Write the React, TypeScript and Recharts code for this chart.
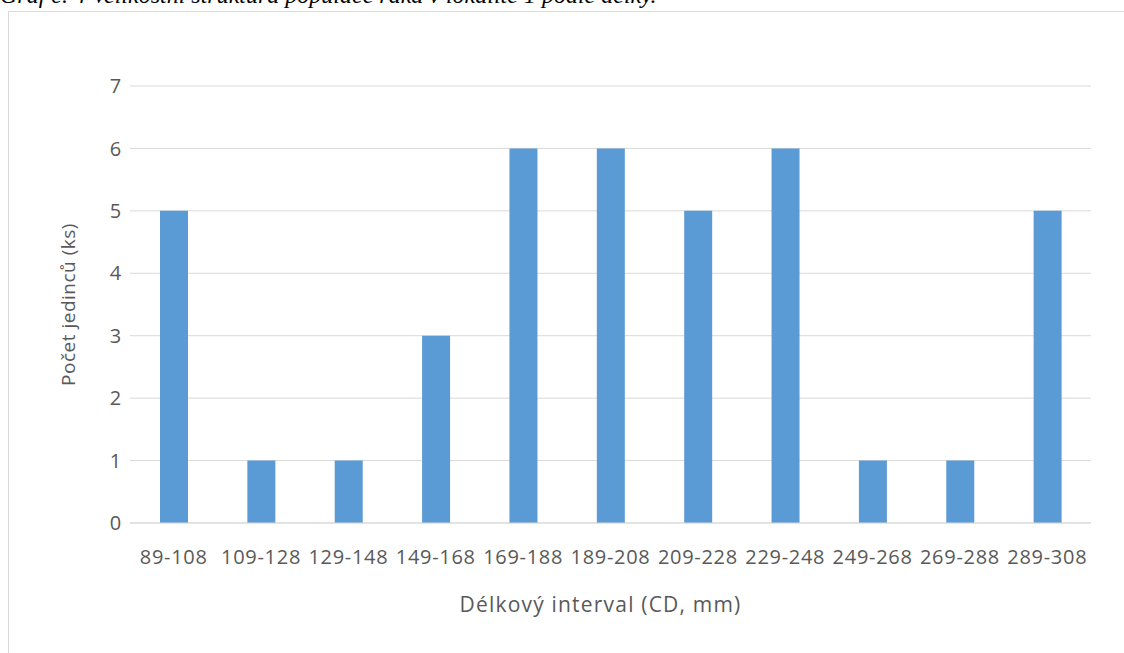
import React from "react";
import { BarChart, Bar, XAxis, YAxis, CartesianGrid } from "recharts";

const categories = [
  "89-108",
  "109-128",
  "129-148",
  "149-168",
  "169-188",
  "189-208",
  "209-228",
  "229-248",
  "249-268",
  "269-288",
  "289-308",
];
const counts = [5, 1, 1, 3, 6, 6, 5, 6, 1, 1, 5];
const yTicks = [0, 1, 2, 3, 4, 5, 6, 7];

const title = "Graf č. 4 Velikostní struktura populace raka v lokalitě 1 podle délky.";
const xTitle = "Délkový interval (CD, mm)";
const yTitle = "Počet jedinců (ks)";

const data = categories.map((c, i) => ({ interval: c, count: counts[i] }));

const font = "'Open Sans', sans-serif";
const textColor = "#595959";
const gridColor = "#d9d9d9";

const tickStyle = { fontSize: 20, fill: textColor, fontFamily: font, letterSpacing: 0.7 };

export default function App() {
  return (
    <div
      style={{
        position: "fixed",
        left: 0,
        top: 0,
        width: 1124,
        height: 653,
        overflow: "hidden",
        background: "#fff",
      }}
    >
      <div
        style={{
          position: "absolute",
          left: 0,
          top: -17,
          fontFamily: "'Liberation Serif', 'Times New Roman', serif",
          fontStyle: "italic",
          fontSize: 24,
          lineHeight: "24px",
          whiteSpace: "nowrap",
          color: "#000",
        }}
      >
        {title}
      </div>
      <div
        style={{
          position: "absolute",
          left: 8,
          top: 11,
          width: 1200,
          height: 700,
          border: `1px solid ${gridColor}`,
        }}
      />
      <div style={{ position: "absolute", left: 0, top: 0 }}>
        <BarChart
          width={1124}
          height={653}
          data={data}
          margin={{ top: 86, right: 33, left: 58, bottom: 70 }}
          barSize={28}
        >
          <CartesianGrid stroke={gridColor} vertical={false} />
          <XAxis
            dataKey="interval"
            height={60}
            axisLine={{ stroke: gridColor }}
            tickLine={false}
            tickMargin={21}
            interval={0}
            tick={tickStyle}
            label={{
              value: xTitle,
              position: "bottom",
              offset: 14,
              dx: -10,
              style: { fontSize: 21, fill: textColor, fontFamily: font, letterSpacing: 1.2 },
            }}
          />
          <YAxis
            width={72}
            domain={[0, 7]}
            ticks={yTicks}
            axisLine={false}
            tickLine={false}
            tick={tickStyle}
            label={{
              value: yTitle,
              angle: -90,
              position: "insideLeft",
              offset: 10,
              style: {
                fontSize: 19,
                fill: textColor,
                fontFamily: font,
                letterSpacing: 0.5,
                textAnchor: "middle",
              },
            }}
          />
          <Bar dataKey="count" fill="#5b9bd5" isAnimationActive={false} />
        </BarChart>
      </div>
    </div>
  );
}
